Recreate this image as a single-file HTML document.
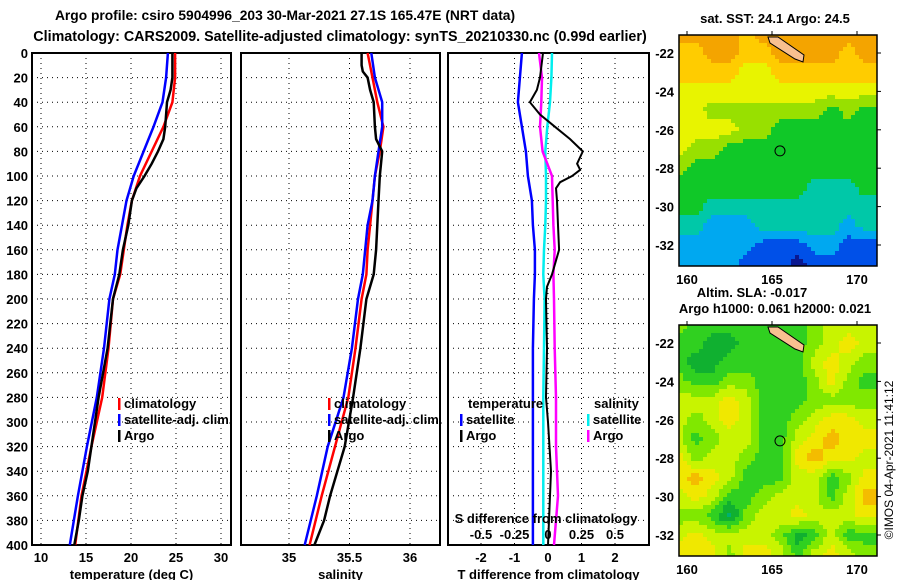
<!DOCTYPE html>
<html><head><meta charset="utf-8"><style>
body{margin:0;background:#fff}
svg{display:block;font-family:"Liberation Sans",Arial,sans-serif;font-weight:bold}
</style></head><body>
<svg id="c" width="900" height="580" viewBox="0 0 900 580" xmlns="http://www.w3.org/2000/svg">
<text x="285" y="20" font-size="13.8" text-anchor="middle">Argo profile: csiro 5904996_203 30-Mar-2021 27.1S 165.47E (NRT data)</text>
<text x="340" y="41" font-size="14.3" text-anchor="middle">Climatology: CARS2009. Satellite-adjusted climatology: synTS_20210330.nc (0.99d earlier)</text>
<g id="plots"></g>
</svg>
<script>
// ---- data ----
const depthsStd = [0,20,40,60,80,100,120,140,160,180,200,240,280,320,360,400];
const tempClim = [24.9,24.9,24.6,23.6,22.3,21.0,20.1,19.6,19.2,18.8,18.0,17.5,16.8,15.6,14.5,13.8];
const tempSat = [24.1,23.9,23.5,22.5,21.4,20.3,19.5,19.0,18.5,18.2,17.6,17.0,16.2,15.1,14.1,13.2];
const tempArgoDepths = [0,20,30,40,60,70,80,90,100,110,120,140,160,180,200,240,280,320,340,360,380,400];
const tempArgo = [24.6,24.6,24.4,24.0,23.8,23.6,23.0,22.3,21.5,20.6,20.1,19.7,19.1,18.7,18.0,17.4,16.4,15.6,15.2,14.6,14.2,13.7];
const salClim = [35.65,35.69,35.73,35.78,35.75,35.71,35.69,35.67,35.65,35.64,35.60,35.55,35.49,35.38,35.27,35.17];
const salSat = [35.68,35.71,35.77,35.77,35.74,35.71,35.69,35.65,35.63,35.61,35.57,35.52,35.45,35.32,35.23,35.13];
const salArgoDepths = [0,10,15,20,30,40,60,70,80,90,100,120,140,160,180,200,240,280,320,360,380,400];
const salArgo = [35.60,35.60,35.61,35.65,35.67,35.70,35.71,35.72,35.77,35.76,35.75,35.74,35.73,35.72,35.70,35.64,35.59,35.53,35.46,35.34,35.29,35.21];
const dTSat = [-0.78,-0.84,-0.90,-0.78,-0.66,-0.60,-0.48,-0.45,-0.39,-0.39,-0.42,-0.45,-0.45,-0.45,-0.45,-0.45];
const dTArgoDepths = [0,20,30,40,50,60,70,80,90,95,100,105,110,120,140,160,180,190,200,240,280,300,340,380,400];
const dTArgo = [-0.15,-0.24,-0.33,-0.54,-0.24,0.21,0.66,1.04,0.87,0.96,0.72,0.36,0.24,0.27,0.30,0.33,0.12,-0.03,-0.06,-0.03,-0.06,0.0,0.09,0.03,0.0];
const dSSat = [0.03,0.025,0.015,-0.005,-0.02,-0.015,-0.015,-0.02,-0.03,-0.035,-0.025,-0.03,-0.035,-0.035,-0.035,-0.035];
const dSArgo = [-0.067,-0.045,-0.05,-0.06,-0.04,0.03,0.035,0.04,0.05,0.04,0.045,0.05,0.06,0.06,0.075,0.045];
const depthTicks = [0,20,40,60,80,100,120,140,160,180,200,220,240,260,280,300,320,340,360,380,400];
const tempTicks = [10,15,20,25,30];
const salTicks = [35,35.5,36];
const dTTicks = [-2,-1,0,1,2];
const dSTicks = [-0.5,-0.25,0,0.25,0.5];
const sstGrid = [
[8,8,8,8,7,8,8,8,8,8,8,8],[7,7,8,8,7,7,8,8,8,8,7,8],[7,7,7,7,6,6,7,7,7,7,7,7],
[6,6,6,6,6,6,6,6,6,6,6,6],[6,6,5,5,5,5,5,5,5,4,5,4],[6,6,6,6,5,5,4,4,4,4,4,4],
[6,5,5,4,4,4,4,4,4,4,4,4],[5,4,4,4,4,4,4,4,4,4,4,4],[4,4,4,4,4,4,4,4,3,3,3,4],
[4,4,3,3,3,3,3,3,3,3,3,3],[3,3,2,2,2,3,3,3,3,3,2,3],[2,2,2,2,2,1,1,1,2,2,1,1],
[2,2,2,2,1,1,1,0,1,1,1,1]];
const slaGrid = [
[3,2,2,2,2,2,2,2,3,4,4,4],[2,2,1,1,2,2,2,2,3,4,5,4],[2,1,1,2,2,2,2,2,4,5,4,3],
[3,2,2,3,3,2,2,2,3,5,3,2],[4,4,4,5,4,2,2,2,3,3,3,3],[4,3,4,5,4,2,2,3,4,5,5,4],
[4,2,3,4,4,2,2,4,5,6,5,5],[5,3,4,4,3,2,2,5,6,5,5,4],[5,6,5,4,2,2,2,4,4,2,3,5],
[4,5,4,2,2,3,4,4,4,2,4,6],[3,3,2,0,3,4,4,5,4,4,4,5],[4,5,4,4,4,4,3,1,2,4,2,2],
[5,5,5,3,5,5,4,2,4,5,4,3]];
const sstColors = ['#0a1890','#0050e8','#00a8f0','#00c8a8','#10c828','#98e000','#e8f400','#ffcc00','#f4a400'];
const slaColors = ['#00b070','#10b030','#30d020','#80e800','#c8f400','#f0e800','#f4bc00'];
const latTicks = [-22,-24,-26,-28,-30,-32];
const lonTicks = [160,165,170];

// ---- helpers ----
const NS='http://www.w3.org/2000/svg';
const root=document.getElementById('plots');
function mk(tag,attrs,parent){const e=document.createElementNS(NS,tag);for(const k in attrs)e.setAttribute(k,attrs[k]);(parent||root).appendChild(e);return e;}
const top0=53, bot0=545;
const yD=d=>top0+(bot0-top0)*d/400;
function lin(d0,d1,r0,r1){return v=>r0+(v-d0)*(r1-r0)/(d1-d0);}
const panels=[
 {x0:32,x1:231,sx:lin(10,30,41,221),ticks:tempTicks,title:'temperature (deg C)',name:'temperature-panel'},
 {x0:241,x1:440,sx:lin(35,36,289,410),ticks:salTicks,title:'salinity',name:'salinity-panel'},
 {x0:448,x1:649,sx:lin(0,1,548,581.5),ticks:dTTicks,title:'T difference from climatology',name:'difference-panel'}
];
panels.forEach((p,i)=>{
 const g=mk('g',{});
 
 
 depthTicks.forEach(d=>{ if(d>0&&d<400){const l=mk('line',{x1:p.x0,x2:p.x1,y1:yD(d),y2:yD(d),stroke:'#000','stroke-width':1,'stroke-dasharray':'1 4'},g);
  }});
 p.ticks.forEach(t=>{const x=p.sx(t);const l=mk('line',{x1:x,x2:x,y1:top0,y2:bot0,stroke:'#000','stroke-width':1,'stroke-dasharray':'1 4'},g);
  
  const tx=mk('text',{x:x,y:562,'font-size':13,'text-anchor':'middle'},g);tx.textContent=String(t);
  });
 const r=mk('rect',{x:p.x0,y:top0,width:p.x1-p.x0,height:bot0-top0,fill:'none',stroke:'#000','stroke-width':2},g);
 
 const tt=mk('text',{x:(p.x0+p.x1)/2,y:579,'font-size':13,'text-anchor':'middle'},g);tt.textContent=p.title;
 
});
depthTicks.forEach(d=>{const t=mk('text',{x:28,y:yD(d)+5,'font-size':13,'text-anchor':'end'});t.textContent=String(d);
 });
function line(xs,ds,sx,color,w,name){
 const pts=xs.map((v,i)=>sx(v).toFixed(1)+','+yD(ds[i]).toFixed(1)).join(' ');
 const e=mk('polyline',{points:pts,fill:'none',stroke:color,'stroke-width':w,'stroke-linejoin':'miter'});
 
 
}
const P=panels;
line(tempClim,depthsStd,P[0].sx,'#f00',2.5,'temp-climatology-line');
line(tempSat,depthsStd,P[0].sx,'#00f',2.5,'temp-satellite-line');
line(tempArgo,tempArgoDepths,P[0].sx,'#000',2.5,'temp-argo-line');
line(salClim,depthsStd,P[1].sx,'#f00',2.5,'sal-climatology-line');
line(salSat,depthsStd,P[1].sx,'#00f',2.5,'sal-satellite-line');
line(salArgo,salArgoDepths,P[1].sx,'#000',2.5,'sal-argo-line');
const sxS=lin(0,0.25,548,581.5);
line(dTSat,depthsStd,P[2].sx,'#00f',2.5,'dT-satellite-line');
line(dSSat,depthsStd,sxS,'#0ee',2.5,'dS-satellite-line');
line(dSArgo,depthsStd,sxS,'#f0f',2.5,'dS-argo-line');
line(dTArgo,dTArgoDepths,P[2].sx,'#000',2,'dT-argo-line');
{const t=mk('text',{x:546,y:523,'font-size':13,'text-anchor':'middle'});t.textContent='S difference from climatology';
 }
dSTicks.forEach(v=>{const t=mk('text',{x:sxS(v),y:539,'font-size':13,'text-anchor':'middle'});t.textContent=String(v);
 });
function leg(x,y,color,label,name){
 const m=mk('rect',{x:x,y:y-10,width:2.5,height:12,fill:color});
 
 const t=mk('text',{x:x+6,y:y,'font-size':13});t.textContent=label;
 
}
leg(118,408,'#f00','climatology','legend-climatology');
leg(118,424,'#00f','satellite-adj. clim.','legend-satellite');
leg(118,440,'#000','Argo','legend-argo');
leg(328,408,'#f00','climatology','legend-climatology');
leg(328,424,'#00f','satellite-adj. clim.','legend-satellite');
leg(328,440,'#000','Argo','legend-argo');
{const t=mk('text',{x:468,y:408,'font-size':13});t.textContent='temperature';}
{const t=mk('text',{x:594,y:408,'font-size':13});t.textContent='salinity';}
leg(460,424,'#00f','satellite','legend-t-satellite');
leg(460,440,'#000','Argo','legend-t-argo');
leg(587,424,'#0ee','satellite','legend-s-satellite');
leg(587,440,'#f0f','Argo','legend-s-argo');

function drawMap(grid,colors,yTop,name){
 const g=mk('g',{});
 
 
 const X0=679,X1=877,Y0=yTop,Y1=yTop+231;
 const lonX=lin(160,165,687,772), latY=lin(-22,-32,yTop+18,yTop+210);
 const xLon=lin(687,772,160,165), yLat=lin(yTop+18,yTop+210,-22,-32);
 const R=grid.length,C=grid[0].length,bs=4;
 for(let y=Y0;y<Y1;y+=bs){for(let x=X0;x<X1;x+=bs){
  const lon=xLon(x+bs/2),lat=yLat(y+bs/2);
  let c=Math.min(C-1.001,Math.max(0,lon-159.5)),r=Math.min(R-1.001,Math.max(0,-21-lat));
  const c0=Math.floor(c),r0=Math.floor(r),fc=c-c0,fr=r-r0;
  const v=grid[r0][c0]*(1-fc)*(1-fr)+grid[r0][c0+1]*fc*(1-fr)+grid[r0+1][c0]*(1-fc)*fr+grid[r0+1][c0+1]*fc*fr;
  mk('rect',{x:x,y:y,width:Math.min(bs,X1-x),height:Math.min(bs,Y1-y),fill:colors[Math.round(v)]},g);
 }}
 const isl=mk('path',{d:`M768 ${yTop+2} L778 ${yTop+2} L804 ${yTop+20} L803 ${yTop+27} L795 ${yTop+24} L770 ${yTop+8} Z`,fill:'#f8c090',stroke:'#000','stroke-width':1},g);
 
 const ci=mk('circle',{cx:lonX(165.47),cy:latY(-27.1),r:5,fill:'none',stroke:'#000','stroke-width':1},g);
 
 const fr=mk('rect',{x:X0,y:Y0,width:X1-X0,height:Y1-Y0,fill:'none',stroke:'#000','stroke-width':1.5},g);
 
 latTicks.forEach(l=>{const t=mk('text',{x:674,y:latY(l)+5,'font-size':13,'text-anchor':'end'},g);t.textContent=String(l);
  
  mk('line',{x1:X1,x2:X1+4,y1:latY(l),y2:latY(l),stroke:'#000'},g);});
 lonTicks.forEach(l=>{const t=mk('text',{x:lonX(l),y:Y1+18,'font-size':13,'text-anchor':'middle'},g);t.textContent=String(l);
  
  mk('line',{x1:lonX(l),x2:lonX(l),y1:Y0,y2:Y0-4,stroke:'#000'},g);});
}
drawMap(sstGrid,sstColors,35,'sst-map');
drawMap(slaGrid,slaColors,325,'sla-map');
function txt(x,y,s,name,extra){const t=mk('text',Object.assign({x:x,y:y,'font-size':13,'text-anchor':'middle'},extra||{}));t.textContent=s;
 }
txt(775,23,'sat. SST: 24.1 Argo: 24.5','sst-map-title');
txt(752,297,'Altim. SLA: -0.017','sla-map-title');
txt(775,313,'Argo h1000: 0.061 h2000: 0.021','argo-height-title');
txt(893,460,'©IMOS 04-Apr-2021 11:41:12','imos-credit',{transform:'rotate(-90 893 460)','font-weight':'normal','font-size':12});
</script>
</body></html>
